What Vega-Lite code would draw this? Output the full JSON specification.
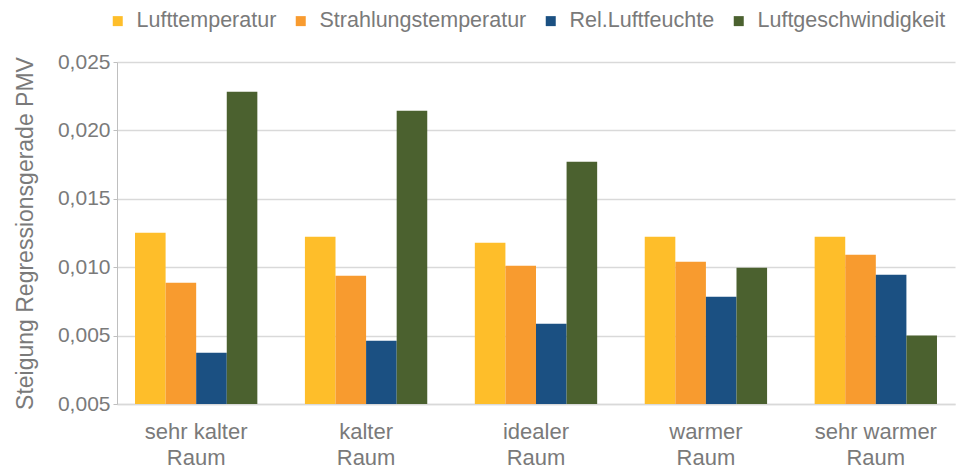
{
  "$schema": "https://vega.github.io/schema/vega-lite/v6.json",
  "autosize": "none",
  "width": 838,
  "height": 342,
  "padding": {"left": 117, "top": 62, "right": 2, "bottom": 65},
  "background": "white",
  "config": {
    "view": {"stroke": null},
    "font": "Liberation Sans"
  },
  "data": {
    "values": [
      {"Raum": "sehr kalter Raum", "Serie": "Lufttemperatur", "Wert": 0.01252},
      {"Raum": "sehr kalter Raum", "Serie": "Strahlungstemperatur", "Wert": 0.00887},
      {"Raum": "sehr kalter Raum", "Serie": "Rel.Luftfeuchte", "Wert": 0.00375},
      {"Raum": "sehr kalter Raum", "Serie": "Luftgeschwindigkeit", "Wert": 0.02283},
      {"Raum": "kalter Raum", "Serie": "Lufttemperatur", "Wert": 0.01223},
      {"Raum": "kalter Raum", "Serie": "Strahlungstemperatur", "Wert": 0.00938},
      {"Raum": "kalter Raum", "Serie": "Rel.Luftfeuchte", "Wert": 0.00463},
      {"Raum": "kalter Raum", "Serie": "Luftgeschwindigkeit", "Wert": 0.02144},
      {"Raum": "idealer Raum", "Serie": "Lufttemperatur", "Wert": 0.01179},
      {"Raum": "idealer Raum", "Serie": "Strahlungstemperatur", "Wert": 0.01011},
      {"Raum": "idealer Raum", "Serie": "Rel.Luftfeuchte", "Wert": 0.00587},
      {"Raum": "idealer Raum", "Serie": "Luftgeschwindigkeit", "Wert": 0.01771},
      {"Raum": "warmer Raum", "Serie": "Lufttemperatur", "Wert": 0.01223},
      {"Raum": "warmer Raum", "Serie": "Strahlungstemperatur", "Wert": 0.0104},
      {"Raum": "warmer Raum", "Serie": "Rel.Luftfeuchte", "Wert": 0.00784},
      {"Raum": "warmer Raum", "Serie": "Luftgeschwindigkeit", "Wert": 0.00996},
      {"Raum": "sehr warmer Raum", "Serie": "Lufttemperatur", "Wert": 0.01223},
      {"Raum": "sehr warmer Raum", "Serie": "Strahlungstemperatur", "Wert": 0.01091},
      {"Raum": "sehr warmer Raum", "Serie": "Rel.Luftfeuchte", "Wert": 0.00945},
      {"Raum": "sehr warmer Raum", "Serie": "Luftgeschwindigkeit", "Wert": 0.005}
    ]
  },
  "mark": {"type": "bar"},
  "encoding": {
    "x": {
      "field": "Raum",
      "type": "nominal",
      "sort": ["sehr kalter Raum", "kalter Raum", "idealer Raum", "warmer Raum", "sehr warmer Raum"],
      "scale": {"paddingInner": 0.28, "paddingOuter": 0.106},
      "axis": {
        "title": null,
        "labelAngle": 0,
        "ticks": false,
        "domainColor": "#D9D9D9",
        "domainWidth": 1.5,
        "labelFontSize": 22,
        "labelColor": "#7a7a7a",
        "labelPadding": 17,
        "labelLineHeight": 26,
        "labelLimit": 300,
        "labelExpr": "[replace(datum.label, ' Raum', ''), 'Raum']"
      }
    },
    "xOffset": {
      "field": "Serie",
      "type": "nominal",
      "sort": ["Lufttemperatur", "Strahlungstemperatur", "Rel.Luftfeuchte", "Luftgeschwindigkeit"],
      "scale": {"paddingInner": 0, "paddingOuter": 0}
    },
    "y": {
      "field": "Wert",
      "type": "quantitative",
      "scale": {"domain": [0, 0.025], "nice": false},
      "axis": {
        "title": "Steigung Regressionsgerade PMV",
        "titleFontSize": 23,
        "titleFontWeight": "normal",
        "titleColor": "#7a7a7a",
        "titlePadding": 20,
        "values": [0, 0.005, 0.01, 0.015, 0.02, 0.025],
        "labelExpr": "datum.value == 0 ? '0,005' : replace(format(datum.value, '.3f'), '.', ',')",
        "labelFontSize": 21,
        "labelColor": "#7a7a7a",
        "labelPadding": 3,
        "tickSize": 4,
        "tickColor": "#BFBFBF",
        "domainColor": "#BFBFBF",
        "gridColor": "#D9D9D9",
        "gridWidth": 1.5
      }
    },
    "color": {
      "field": "Serie",
      "type": "nominal",
      "scale": {
        "domain": ["Lufttemperatur", "Strahlungstemperatur", "Rel.Luftfeuchte", "Luftgeschwindigkeit"],
        "range": ["#FEBE2A", "#F89B2F", "#1B5082", "#4B612F"]
      },
      "legend": {
        "title": null,
        "orient": "none",
        "direction": "horizontal",
        "legendX": -10,
        "legendY": -52,
        "padding": 0,
        "symbolType": "square",
        "symbolSize": 100,
        "symbolStrokeWidth": 0,
        "labelFontSize": 21.5,
        "labelLimit": 400,
        "labelColor": "#7a7a7a",
        "labelOffset": 8,
        "columnPadding": 13
      }
    }
  }
}
